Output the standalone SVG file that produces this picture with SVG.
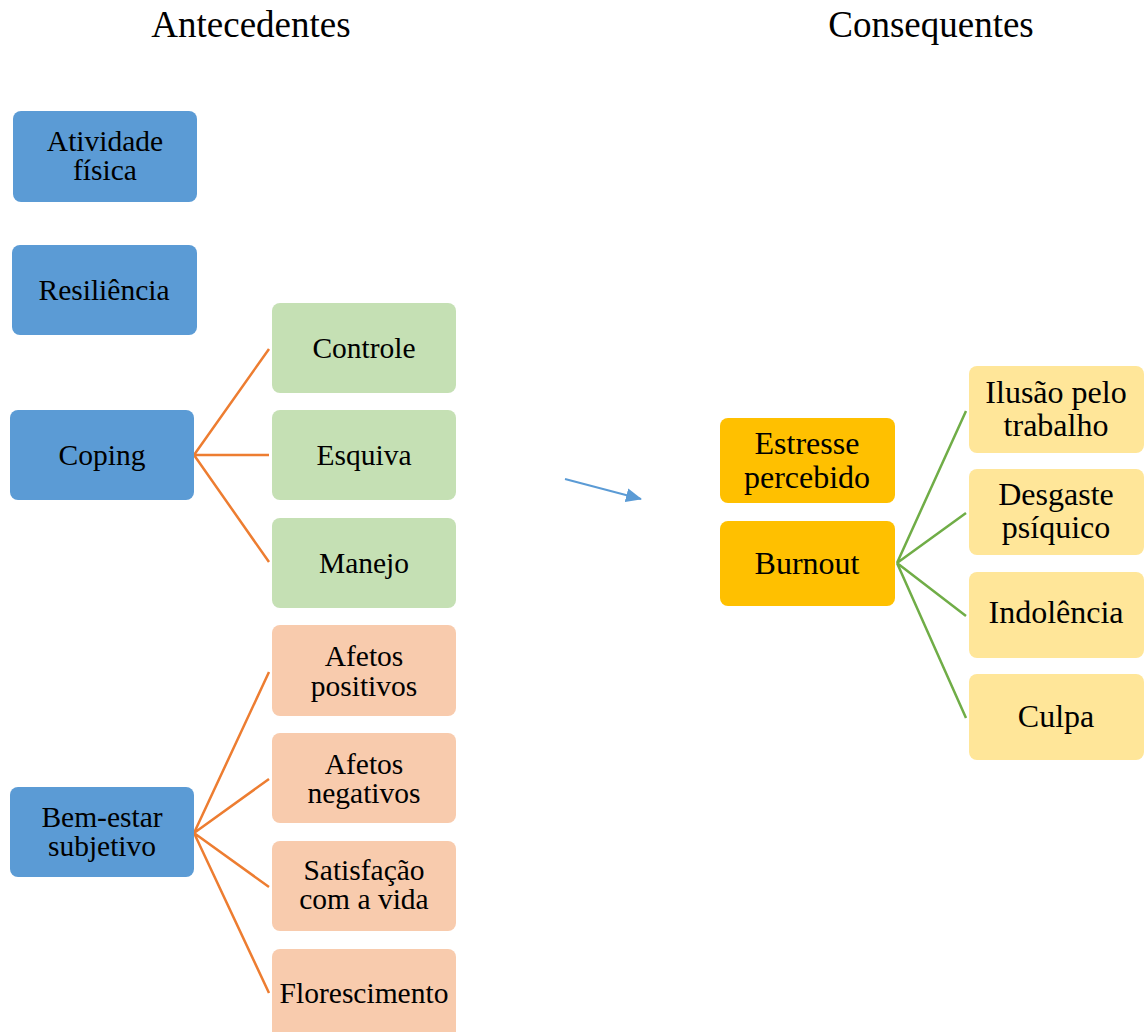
<svg xmlns="http://www.w3.org/2000/svg" width="1144" height="1032" viewBox="0 0 1144 1032">
<style>
text{font-family:"Liberation Serif","Times New Roman",serif;fill:#000;text-anchor:middle}
.l{font-size:29.5px}
.r{font-size:32px}
.t{font-size:37px}
.blue{fill:#5B9BD5}
.green{fill:#C5E0B4}
.peach{fill:#F8CBAD}
.gold{fill:#FFC000}
.yel{fill:#FFE699}
.ol{stroke:#ED7D31;stroke-width:2.5;fill:none}
.gl{stroke:#70AD47;stroke-width:2.5;fill:none}
</style>
<defs>
<marker id="ah" markerWidth="16" markerHeight="14" refX="15" refY="7" orient="auto" markerUnits="userSpaceOnUse" viewBox="0 0 16 14">
<path d="M0,0 L16,7 L0,14 z" fill="#5B9BD5"/>
</marker>
</defs>
<rect width="1144" height="1032" fill="#fff"/>
<text class="t" x="251" y="37">Antecedentes</text>
<text class="t" x="931" y="37">Consequentes</text>
<g id="connectors">
<path class="ol" d="M194,455 L269,349 M194,455 L269,455 M194,455 L269,562"/>
<path class="ol" d="M194,833 L269,672 M194,833 L269,779 M194,833 L269,887 M194,833 L269,993"/>
<path class="gl" d="M897,563 L966,411 M897,563 L966,513 M897,563 L966,616 M897,563 L966,718"/>
<line x1="565" y1="479" x2="641" y2="499" stroke="#5B9BD5" stroke-width="2" marker-end="url(#ah)"/>
</g>
<g id="atividade"><rect class="blue" x="13" y="111" width="184" height="91" rx="8"/><text class="l" x="105" y="151">Atividade</text><text class="l" x="105" y="180">física</text></g>
<g id="resiliencia"><rect class="blue" x="12" y="245" width="185" height="90" rx="8"/><text class="l" x="104" y="300">Resiliência</text></g>
<g id="coping"><rect class="blue" x="10" y="410" width="184" height="90" rx="8"/><text class="l" x="102" y="465">Coping</text></g>
<g id="bemestar"><rect class="blue" x="10" y="787" width="184" height="90" rx="8"/><text class="l" x="102" y="827">Bem-estar</text><text class="l" x="102" y="856">subjetivo</text></g>
<g id="controle"><rect class="green" x="272" y="303" width="184" height="90" rx="8"/><text class="l" x="364" y="358">Controle</text></g>
<g id="esquiva"><rect class="green" x="272" y="410" width="184" height="90" rx="8"/><text class="l" x="364" y="465">Esquiva</text></g>
<g id="manejo"><rect class="green" x="272" y="518" width="184" height="90" rx="8"/><text class="l" x="364" y="573">Manejo</text></g>
<g id="afetospos"><rect class="peach" x="272" y="625" width="184" height="91" rx="8"/><text class="l" x="364" y="666">Afetos</text><text class="l" x="364" y="696">positivos</text></g>
<g id="afetosneg"><rect class="peach" x="272" y="733" width="184" height="90" rx="8"/><text class="l" x="364" y="774">Afetos</text><text class="l" x="364" y="803">negativos</text></g>
<g id="satisfacao"><rect class="peach" x="272" y="841" width="184" height="90" rx="8"/><text class="l" x="364" y="880">Satisfação</text><text class="l" x="364" y="909">com a vida</text></g>
<g id="florescimento"><rect class="peach" x="272" y="949" width="184" height="90" rx="8"/><text class="l" x="364" y="1003">Florescimento</text></g>
<g id="estresse"><rect class="gold" x="720" y="418" width="175" height="85" rx="8"/><text class="r" x="807" y="454">Estresse</text><text class="r" x="807" y="488">percebido</text></g>
<g id="burnout"><rect class="gold" x="720" y="521" width="175" height="85" rx="8"/><text class="r" x="807" y="574">Burnout</text></g>
<g id="ilusao"><rect class="yel" x="969" y="366" width="175" height="87" rx="8"/><text class="r" x="1056" y="403">Ilusão pelo</text><text class="r" x="1056" y="436">trabalho</text></g>
<g id="desgaste"><rect class="yel" x="969" y="469" width="175" height="86" rx="8"/><text class="r" x="1056" y="505">Desgaste</text><text class="r" x="1056" y="538">psíquico</text></g>
<g id="indolencia"><rect class="yel" x="969" y="572" width="175" height="86" rx="8"/><text class="r" x="1056" y="623">Indolência</text></g>
<g id="culpa"><rect class="yel" x="969" y="674" width="175" height="86" rx="8"/><text class="r" x="1056" y="727">Culpa</text></g>
</svg>
